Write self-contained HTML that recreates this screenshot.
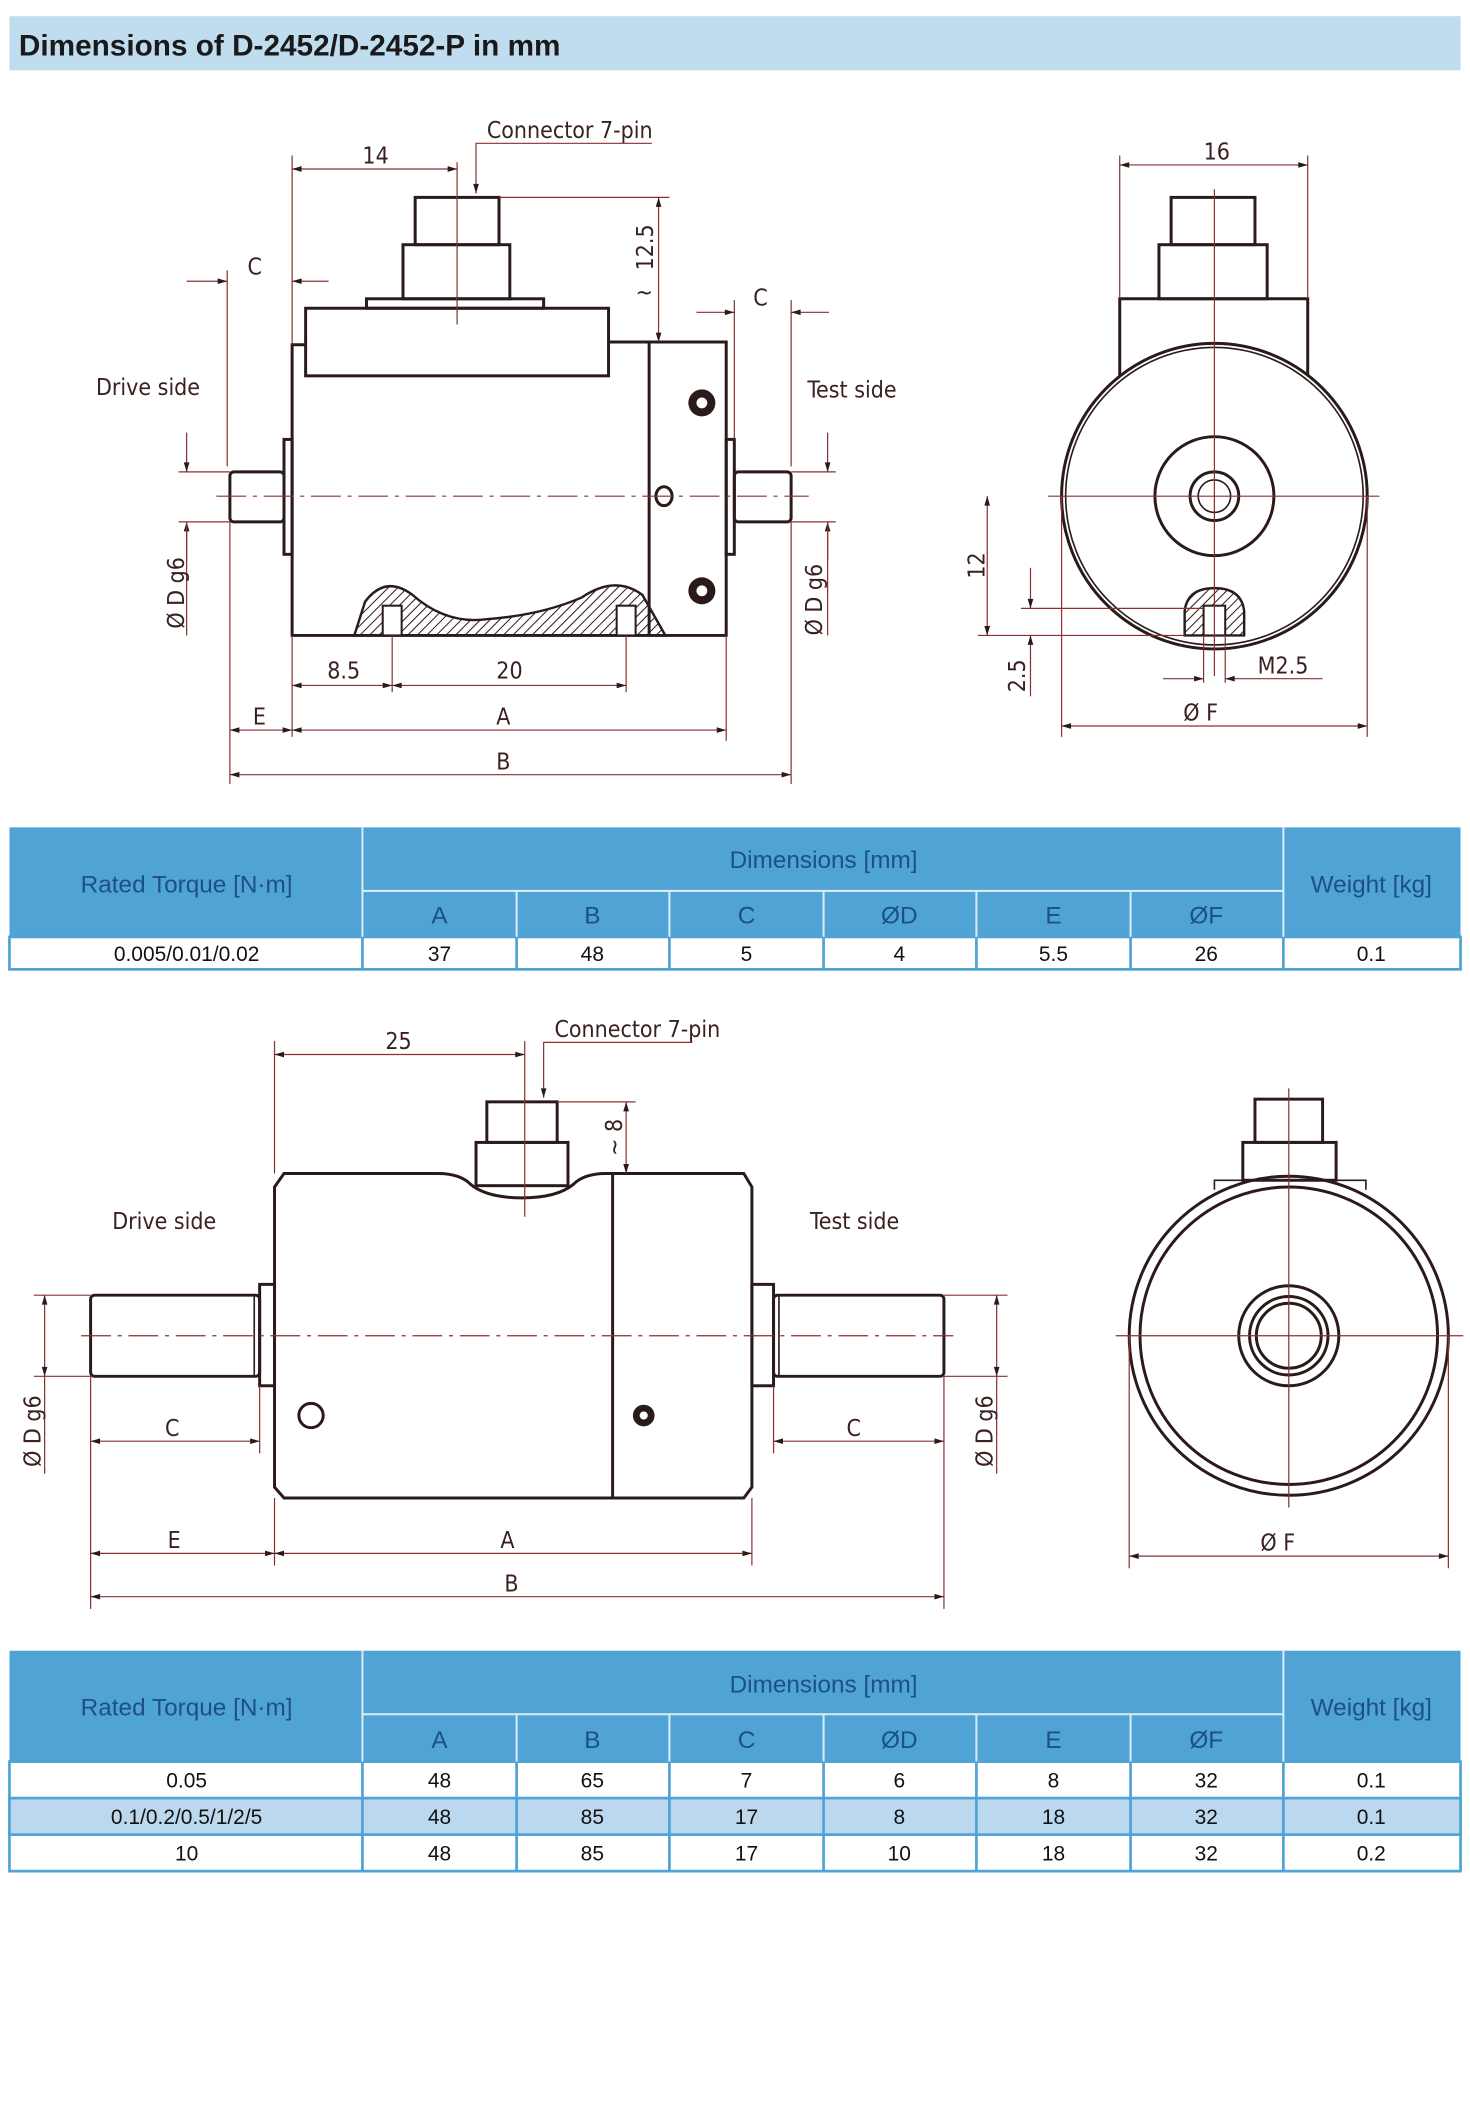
<!DOCTYPE html>
<html><head><meta charset="utf-8">
<style>
html,body{margin:0;padding:0;background:#fff;}
svg{display:block;}
.o{fill:none;stroke:#2a1a1a;stroke-width:2.2;}
.t{fill:none;stroke:#2a1a1a;stroke-width:1.2;}
.d{fill:none;stroke:#8a3030;stroke-width:0.9;}
.c{fill:none;stroke:#8a3030;stroke-width:0.9;stroke-dasharray:22 5 3 5;}
.l{font-family:"DejaVu Sans Condensed","Liberation Sans Narrow","Liberation Sans",sans-serif;font-size:17px;fill:#3a2020;}
.th{font-family:"Liberation Sans",sans-serif;font-size:18px;fill:#1d4f88;text-anchor:middle;}
.td{font-family:"Liberation Sans",sans-serif;font-size:15.5px;fill:#111;text-anchor:middle;}
</style></head><body>
<svg width="1470" height="2128" viewBox="0 0 1087 1574" preserveAspectRatio="none" xmlns="http://www.w3.org/2000/svg">
<defs>
<marker id="a" viewBox="0 0 10 10" refX="10" refY="5" markerWidth="9" markerHeight="7" orient="auto-start-reverse" markerUnits="userSpaceOnUse"><path d="M0,2 L10,5 L0,8z" fill="#2a1a1a"/></marker>
<pattern id="h" width="5" height="5" patternUnits="userSpaceOnUse" patternTransform="rotate(45)"><line x1="0" y1="0" x2="0" y2="5" stroke="#2a1a1a" stroke-width="1.5"/></pattern>
</defs>
<!-- header -->
<rect x="7" y="12" width="1073" height="40" fill="#c0dcef"/>
<text x="14" y="41" font-family="Liberation Sans,sans-serif" font-size="22" font-weight="bold" fill="#1a1a1a">Dimensions of D-2452/D-2452-P in mm</text>

<!-- DRAWING 1 front -->
<g>
<rect class="o" x="307" y="146" width="62" height="35"/>
<rect class="o" x="298" y="181" width="79" height="40"/>
<rect class="o" x="271" y="221" width="131" height="7"/>
<rect class="o" x="226" y="228" width="224" height="50"/>
<path class="o" d="M450,253 L537,253 L537,470 L216,470 L216,255 L226,255"/>
<line class="o" x1="480" y1="253" x2="480" y2="470"/>
<rect class="o" x="210" y="325" width="6" height="85"/>
<rect class="o" x="537" y="325" width="6" height="85"/>
<rect class="o" x="170" y="349" width="40" height="37" rx="3"/>
<rect class="o" x="543" y="349" width="42" height="37" rx="3"/>
<circle cx="519" cy="298" r="10" fill="#2a1a1a"/><circle cx="519" cy="298" r="4" fill="#fff"/>
<circle cx="519" cy="437" r="10" fill="#2a1a1a"/><circle cx="519" cy="437" r="4" fill="#fff"/>
<ellipse class="o" cx="491" cy="367" rx="6" ry="7"/>
<path d="M262,470 L270,445 Q285,425 305,440 Q330,462 360,458 Q400,455 430,442 Q455,425 475,440 L492,470 Z" fill="url(#h)" stroke="#2a1a1a" stroke-width="1.8"/>
<rect x="283" y="448" width="14" height="22" fill="#fff" stroke="#2a1a1a" stroke-width="1.5"/>
<rect x="456" y="448" width="14" height="22" fill="#fff" stroke="#2a1a1a" stroke-width="1.5"/>
<line class="c" x1="160" y1="367" x2="598" y2="367"/>
<line class="d" x1="338" y1="120" x2="338" y2="240"/>
<!-- dims -->
<line class="d" x1="216" y1="115" x2="216" y2="255"/>
<line class="d" x1="216" y1="125" x2="338" y2="125" marker-start="url(#a)" marker-end="url(#a)"/>
<text class="l" x="268" y="121">14</text>
<path class="d" d="M482,106 L360,106 L352,106 L352,143" marker-end="url(#a)"/>
<text class="l" x="360" y="102">Connector 7-pin</text>
<line class="d" x1="369" y1="146" x2="495" y2="146"/>
<line class="d" x1="487" y1="146" x2="487" y2="253" marker-start="url(#a)" marker-end="url(#a)"/>
<text class="l" transform="translate(483,200) rotate(-90)">12.5</text>
<text class="l" x="470" y="222">~</text>
<line class="d" x1="168" y1="200" x2="168" y2="345"/>
<line class="d" x1="138" y1="208" x2="168" y2="208" marker-end="url(#a)"/>
<line class="d" x1="216" y1="208" x2="243" y2="208" marker-start="url(#a)"/>
<text class="l" x="183" y="203">C</text>
<line class="d" x1="543" y1="222" x2="543" y2="325"/>
<line class="d" x1="585" y1="222" x2="585" y2="345"/>
<line class="d" x1="515" y1="231" x2="543" y2="231" marker-end="url(#a)"/>
<line class="d" x1="585" y1="231" x2="613" y2="231" marker-start="url(#a)"/>
<text class="l" x="557" y="226">C</text>
<text class="l" x="71" y="292">Drive side</text>
<text class="l" x="597" y="294">Test side</text>
<line class="d" x1="132" y1="349" x2="170" y2="349"/><line class="d" x1="132" y1="386" x2="170" y2="386"/>
<line class="d" x1="138" y1="320" x2="138" y2="349" marker-end="url(#a)"/>
<line class="d" x1="138" y1="415" x2="138" y2="386" marker-end="url(#a)"/>
<line class="d" x1="138" y1="386" x2="138" y2="470"/>
<text class="l" transform="translate(136,465) rotate(-90)">Ø D g6</text>
<line class="d" x1="585" y1="349" x2="618" y2="349"/><line class="d" x1="585" y1="386" x2="618" y2="386"/>
<line class="d" x1="612" y1="320" x2="612" y2="349" marker-end="url(#a)"/>
<line class="d" x1="612" y1="415" x2="612" y2="386" marker-end="url(#a)"/>
<line class="d" x1="612" y1="386" x2="612" y2="470"/>
<text class="l" transform="translate(608,470) rotate(-90)">Ø D g6</text>
<line class="d" x1="290" y1="470" x2="290" y2="512"/><line class="d" x1="463" y1="470" x2="463" y2="512"/>
<line class="d" x1="216" y1="470" x2="216" y2="545"/><line class="d" x1="537" y1="470" x2="537" y2="548"/>
<line class="d" x1="170" y1="386" x2="170" y2="580"/><line class="d" x1="585" y1="386" x2="585" y2="580"/>
<line class="d" x1="216" y1="507" x2="290" y2="507" marker-start="url(#a)" marker-end="url(#a)"/>
<line class="d" x1="290" y1="507" x2="463" y2="507" marker-start="url(#a)" marker-end="url(#a)"/>
<text class="l" x="242" y="502">8.5</text><text class="l" x="367" y="502">20</text>
<line class="d" x1="170" y1="540" x2="216" y2="540" marker-start="url(#a)" marker-end="url(#a)"/>
<line class="d" x1="216" y1="540" x2="537" y2="540" marker-start="url(#a)" marker-end="url(#a)"/>
<text class="l" x="187" y="536">E</text><text class="l" x="367" y="536">A</text>
<line class="d" x1="170" y1="573" x2="585" y2="573" marker-start="url(#a)" marker-end="url(#a)"/>
<text class="l" x="367" y="569">B</text>
</g>

<!-- DRAWING 1 side -->
<g>
<rect class="o" x="866" y="146" width="62" height="35"/>
<rect class="o" x="857" y="181" width="80" height="40"/>
<path class="o" d="M828,278 L828,221 L967,221 L967,278"/>
<circle class="o" cx="898" cy="367" r="113" stroke-width="2.6"/>
<circle class="t" cx="898" cy="367" r="110"/>
<circle class="o" cx="898" cy="367" r="44"/>
<circle class="o" cx="898" cy="367" r="18" stroke-width="3"/>
<circle class="t" cx="898" cy="367" r="12"/>
<path d="M876,470 L876,452 Q878,435 898,435 Q918,435 920,452 L920,470 Z" fill="url(#h)" stroke="#2a1a1a" stroke-width="1.8"/>
<rect x="890" y="448" width="16" height="22" fill="#fff" stroke="#2a1a1a" stroke-width="1.5"/>
<line class="d" x1="898" y1="140" x2="898" y2="500"/>
<line class="d" x1="775" y1="367" x2="1020" y2="367"/>
<line class="d" x1="828" y1="115" x2="828" y2="221"/><line class="d" x1="967" y1="115" x2="967" y2="221"/>
<line class="d" x1="828" y1="122" x2="967" y2="122" marker-start="url(#a)" marker-end="url(#a)"/>
<text class="l" x="890" y="118">16</text>
<line class="d" x1="723" y1="470" x2="876" y2="470"/>
<line class="d" x1="730" y1="367" x2="730" y2="470" marker-start="url(#a)" marker-end="url(#a)"/>
<text class="l" transform="translate(728,428) rotate(-90)">12</text>
<line class="d" x1="755" y1="450" x2="890" y2="450"/>
<line class="d" x1="762" y1="420" x2="762" y2="450" marker-end="url(#a)"/>
<line class="d" x1="762" y1="515" x2="762" y2="470" marker-end="url(#a)"/>
<text class="l" transform="translate(758,512) rotate(-90)">2.5</text>
<line class="d" x1="890" y1="470" x2="890" y2="505"/><line class="d" x1="906" y1="470" x2="906" y2="505"/>
<line class="d" x1="860" y1="502" x2="890" y2="502" marker-end="url(#a)"/>
<line class="d" x1="978" y1="502" x2="906" y2="502" marker-end="url(#a)"/>
<text class="l" x="930" y="498">M2.5</text>
<line class="d" x1="785" y1="367" x2="785" y2="545"/><line class="d" x1="1011" y1="367" x2="1011" y2="545"/>
<line class="d" x1="785" y1="537" x2="1011" y2="537" marker-start="url(#a)" marker-end="url(#a)"/>
<text class="l" x="875" y="533" font-size="19">Ø F</text>
</g>

<!-- TABLE 1 -->
<g>
<rect x="7" y="612" width="1073" height="81" fill="#4fa3d5"/>
<rect x="7" y="693" width="1073" height="24" fill="#fff" stroke="#4fa3d5" stroke-width="2"/>
<line x1="268" y1="659" x2="949" y2="659" stroke="#d8ebf7" stroke-width="1.5"/>
<g stroke="#d8ebf7" stroke-width="1.5"><line x1="268" y1="612" x2="268" y2="693"/><line x1="949" y1="612" x2="949" y2="693"/>
<line x1="382" y1="659" x2="382" y2="693"/><line x1="495" y1="659" x2="495" y2="693"/><line x1="609" y1="659" x2="609" y2="693"/><line x1="722" y1="659" x2="722" y2="693"/><line x1="836" y1="659" x2="836" y2="693"/></g>
<g stroke="#4fa3d5" stroke-width="2"><line x1="268" y1="693" x2="268" y2="717"/><line x1="382" y1="693" x2="382" y2="717"/><line x1="495" y1="693" x2="495" y2="717"/><line x1="609" y1="693" x2="609" y2="717"/><line x1="722" y1="693" x2="722" y2="717"/><line x1="836" y1="693" x2="836" y2="717"/><line x1="949" y1="693" x2="949" y2="717"/></g>
<text class="th" x="138" y="660">Rated Torque [N·m]</text>
<text class="th" x="609" y="642">Dimensions [mm]</text>
<text class="th" x="1014" y="660">Weight [kg]</text>
<text class="th" x="325" y="683">A</text><text class="th" x="438" y="683">B</text><text class="th" x="552" y="683">C</text><text class="th" x="665" y="683">ØD</text><text class="th" x="779" y="683">E</text><text class="th" x="892" y="683">ØF</text>
<text class="td" x="138" y="711">0.005/0.01/0.02</text><text class="td" x="325" y="711">37</text><text class="td" x="438" y="711">48</text><text class="td" x="552" y="711">5</text><text class="td" x="665" y="711">4</text><text class="td" x="779" y="711">5.5</text><text class="td" x="892" y="711">26</text><text class="td" x="1014" y="711">0.1</text>
</g>

<!-- DRAWING 2 front -->
<g>
<rect class="o" x="360" y="815" width="52" height="30"/>
<rect class="o" x="352" y="845" width="68" height="32"/>
<path class="o" d="M210,868 L324,868 Q340,868 348,876 Q360,886 386,886 Q412,886 424,876 Q432,868 448,868 L550,868 L556,878 L556,1100 L550,1108 L210,1108 L203,1100 L203,878 Z"/>
<line class="o" x1="453" y1="868" x2="453" y2="1108"/>
<rect class="o" x="192" y="950" width="11" height="75"/>
<rect class="o" x="556" y="950" width="16" height="75"/>
<rect class="o" x="67" y="958" width="125" height="60" rx="3"/>
<line class="t" x1="188" y1="958" x2="188" y2="1018"/>
<rect class="o" x="572" y="958" width="126" height="60" rx="3"/>
<line class="t" x1="576" y1="958" x2="576" y2="1018"/>
<ellipse class="o" cx="230" cy="1047" rx="9" ry="9"/>
<circle cx="476" cy="1047" r="8" fill="#2a1a1a"/><circle cx="476" cy="1047" r="3" fill="#fff"/>
<line class="c" x1="60" y1="988" x2="705" y2="988"/>
<line class="d" x1="388" y1="770" x2="388" y2="900"/>
<line class="d" x1="203" y1="770" x2="203" y2="868"/>
<line class="d" x1="203" y1="780" x2="388" y2="780" marker-start="url(#a)" marker-end="url(#a)"/>
<text class="l" x="285" y="776">25</text>
<path class="d" d="M512,771 L410,771 L402,771 L402,812" marker-end="url(#a)"/>
<text class="l" x="410" y="767">Connector 7-pin</text>
<line class="d" x1="412" y1="815" x2="470" y2="815"/>
<line class="d" x1="463" y1="815" x2="463" y2="868" marker-start="url(#a)" marker-end="url(#a)"/>
<text class="l" transform="translate(460,855) rotate(-90)">~ 8</text>
<text class="l" x="83" y="909">Drive side</text>
<text class="l" x="599" y="909">Test side</text>
<line class="d" x1="25" y1="958" x2="67" y2="958"/><line class="d" x1="25" y1="1018" x2="67" y2="1018"/>
<line class="d" x1="33" y1="958" x2="33" y2="1018" marker-start="url(#a)" marker-end="url(#a)"/>
<line class="d" x1="33" y1="1018" x2="33" y2="1090"/>
<text class="l" transform="translate(30,1085) rotate(-90)">Ø D g6</text>
<line class="d" x1="698" y1="958" x2="745" y2="958"/><line class="d" x1="698" y1="1018" x2="745" y2="1018"/>
<line class="d" x1="737" y1="958" x2="737" y2="1018" marker-start="url(#a)" marker-end="url(#a)"/>
<line class="d" x1="737" y1="1018" x2="737" y2="1090"/>
<text class="l" transform="translate(734,1085) rotate(-90)">Ø D g6</text>
<line class="d" x1="67" y1="1018" x2="67" y2="1190"/><line class="d" x1="698" y1="1018" x2="698" y2="1190"/>
<line class="d" x1="192" y1="1025" x2="192" y2="1075"/><line class="d" x1="572" y1="1025" x2="572" y2="1075"/>
<line class="d" x1="203" y1="1108" x2="203" y2="1158"/><line class="d" x1="556" y1="1108" x2="556" y2="1158"/>
<line class="d" x1="67" y1="1066" x2="192" y2="1066" marker-start="url(#a)" marker-end="url(#a)"/>
<line class="d" x1="572" y1="1066" x2="698" y2="1066" marker-start="url(#a)" marker-end="url(#a)"/>
<text class="l" x="122" y="1062">C</text><text class="l" x="626" y="1062">C</text>
<line class="d" x1="67" y1="1149" x2="203" y2="1149" marker-start="url(#a)" marker-end="url(#a)"/>
<line class="d" x1="203" y1="1149" x2="556" y2="1149" marker-start="url(#a)" marker-end="url(#a)"/>
<text class="l" x="124" y="1145">E</text><text class="l" x="370" y="1145">A</text>
<line class="d" x1="67" y1="1181" x2="698" y2="1181" marker-start="url(#a)" marker-end="url(#a)"/>
<text class="l" x="373" y="1177">B</text>
</g>

<!-- DRAWING 2 side -->
<g>
<rect class="o" x="928" y="813" width="50" height="32"/>
<rect class="o" x="919" y="845" width="69" height="28"/>
<path class="t" d="M898,880 L898,873 L1010,873 L1010,880"/>
<circle class="o" cx="953" cy="988" r="118" stroke-width="2.6"/>
<circle class="o" cx="953" cy="988" r="110"/>
<circle class="o" cx="953" cy="988" r="37"/>
<circle class="o" cx="953" cy="988" r="29"/>
<circle class="o" cx="953" cy="988" r="24"/>
<line class="d" x1="953" y1="805" x2="953" y2="1115"/>
<line class="d" x1="825" y1="988" x2="1082" y2="988"/>
<line class="d" x1="835" y1="988" x2="835" y2="1160"/><line class="d" x1="1071" y1="988" x2="1071" y2="1160"/>
<line class="d" x1="835" y1="1151" x2="1071" y2="1151" marker-start="url(#a)" marker-end="url(#a)"/>
<text class="l" x="932" y="1147" font-size="19">Ø F</text>
</g>

<!-- TABLE 2 -->
<g>
<rect x="7" y="1221" width="1073" height="82" fill="#4fa3d5"/>
<rect x="7" y="1303" width="1073" height="81" fill="#fff" stroke="#4fa3d5" stroke-width="2"/>
<rect x="7" y="1330" width="1073" height="27" fill="#bcd8ee" stroke="#4fa3d5" stroke-width="2"/>
<line x1="268" y1="1268" x2="949" y2="1268" stroke="#d8ebf7" stroke-width="1.5"/>
<g stroke="#d8ebf7" stroke-width="1.5"><line x1="268" y1="1221" x2="268" y2="1303"/><line x1="949" y1="1221" x2="949" y2="1303"/>
<line x1="382" y1="1268" x2="382" y2="1303"/><line x1="495" y1="1268" x2="495" y2="1303"/><line x1="609" y1="1268" x2="609" y2="1303"/><line x1="722" y1="1268" x2="722" y2="1303"/><line x1="836" y1="1268" x2="836" y2="1303"/></g>
<g stroke="#4fa3d5" stroke-width="2"><line x1="268" y1="1303" x2="268" y2="1384"/><line x1="382" y1="1303" x2="382" y2="1384"/><line x1="495" y1="1303" x2="495" y2="1384"/><line x1="609" y1="1303" x2="609" y2="1384"/><line x1="722" y1="1303" x2="722" y2="1384"/><line x1="836" y1="1303" x2="836" y2="1384"/><line x1="949" y1="1303" x2="949" y2="1384"/></g>
<text class="th" x="138" y="1269">Rated Torque [N·m]</text>
<text class="th" x="609" y="1252">Dimensions [mm]</text>
<text class="th" x="1014" y="1269">Weight [kg]</text>
<text class="th" x="325" y="1293">A</text><text class="th" x="438" y="1293">B</text><text class="th" x="552" y="1293">C</text><text class="th" x="665" y="1293">ØD</text><text class="th" x="779" y="1293">E</text><text class="th" x="892" y="1293">ØF</text>
<text class="td" x="138" y="1322">0.05</text><text class="td" x="325" y="1322">48</text><text class="td" x="438" y="1322">65</text><text class="td" x="552" y="1322">7</text><text class="td" x="665" y="1322">6</text><text class="td" x="779" y="1322">8</text><text class="td" x="892" y="1322">32</text><text class="td" x="1014" y="1322">0.1</text>
<text class="td" x="138" y="1349">0.1/0.2/0.5/1/2/5</text><text class="td" x="325" y="1349">48</text><text class="td" x="438" y="1349">85</text><text class="td" x="552" y="1349">17</text><text class="td" x="665" y="1349">8</text><text class="td" x="779" y="1349">18</text><text class="td" x="892" y="1349">32</text><text class="td" x="1014" y="1349">0.1</text>
<text class="td" x="138" y="1376">10</text><text class="td" x="325" y="1376">48</text><text class="td" x="438" y="1376">85</text><text class="td" x="552" y="1376">17</text><text class="td" x="665" y="1376">10</text><text class="td" x="779" y="1376">18</text><text class="td" x="892" y="1376">32</text><text class="td" x="1014" y="1376">0.2</text>
</g>
</svg>
</body></html>
